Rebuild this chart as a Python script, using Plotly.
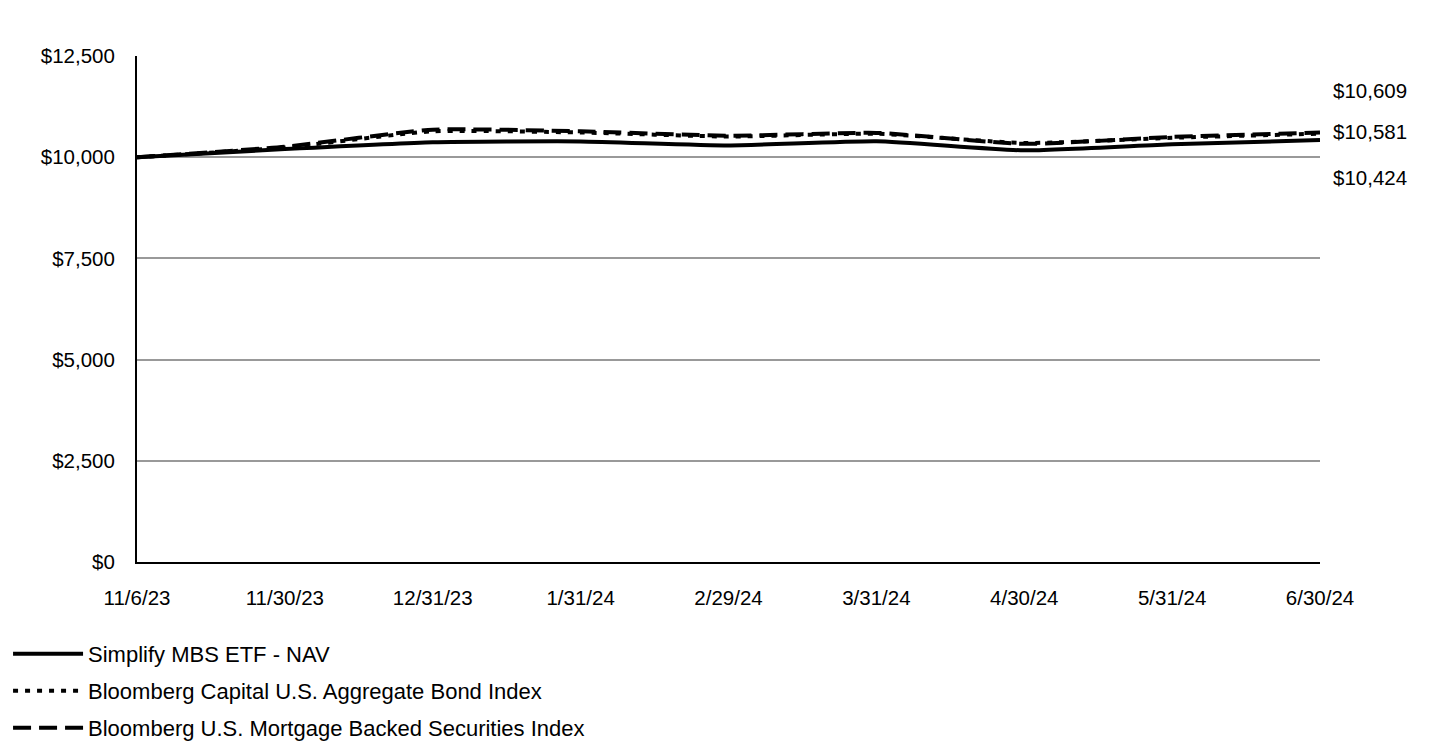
import plotly.graph_objects as go

dates = ["11/6/23", "11/30/23", "12/31/23", "1/31/24", "2/29/24", "3/31/24", "4/30/24", "5/31/24", "6/30/24"]
nav = [10000, 10200, 10370, 10390, 10290, 10395, 10170, 10320, 10424]
agg = [10000, 10240, 10640, 10610, 10510, 10580, 10350, 10480, 10581]
mbs = [10000, 10260, 10680, 10640, 10530, 10600, 10330, 10500, 10609]
end_labels = ["$10,424", "$10,581", "$10,609"]
yticks = [0, 2500, 5000, 7500, 10000, 12500]
ytick_text = ["$0", "$2,500", "$5,000", "$7,500", "$10,000", "$12,500"]

FAM = "Liberation Sans, Arial, sans-serif"
font = dict(family=FAM, size=20.5, color="#000")

fig = go.Figure()
fig.add_trace(go.Scatter(x=dates, y=nav, mode="lines", name="Simplify MBS ETF - NAV", legend="legend",
                         line=dict(color="#000", width=4, shape="spline", smoothing=0.5)))
fig.add_trace(go.Scatter(x=dates, y=agg, mode="lines", name="Bloomberg Capital U.S. Aggregate Bond Index",
                         legend="legend2",
                         line=dict(color="#000", width=4, dash="5px,7px", shape="spline", smoothing=0.5)))
fig.add_trace(go.Scatter(x=dates, y=mbs, mode="lines", name="Bloomberg U.S. Mortgage Backed Securities Index",
                         legend="legend3",
                         line=dict(color="#000", width=4, dash="18px,8px", shape="spline", smoothing=0.5)))

shifts = [-37, 2, 42]
for val, lab, ys in zip([nav[-1], agg[-1], mbs[-1]], end_labels, shifts):
    fig.add_annotation(x=dates[-1], y=val, text=lab, showarrow=False, xanchor="left",
                       yanchor="middle", xshift=11, yshift=ys, font=font)

leg_common = dict(x=-0.109, xanchor="left", yanchor="middle", orientation="v",
                  font=dict(family=FAM, size=22, color="#000"), itemwidth=70,
                  bgcolor="rgba(0,0,0,0)")

fig.update_layout(
    width=1440, height=744,
    margin=dict(l=129, r=128, t=48, b=190, autoexpand=False),
    paper_bgcolor="white", plot_bgcolor="white",
    font=font,
    showlegend=True,
    legend=dict(y=-0.1818, **leg_common),
    legend2=dict(y=-0.2549, **leg_common),
    legend3=dict(y=-0.3281, **leg_common),
    xaxis=dict(type="category", range=[0, 8], showgrid=False, showline=True, linecolor="#000",
               linewidth=2, ticks="outside", ticklen=16, tickcolor="rgba(0,0,0,0)",
               tickfont=font, zeroline=False),
    yaxis=dict(range=[0, 12500], tickmode="array", tickvals=yticks, ticktext=ytick_text,
               showgrid=True, gridcolor="#999", gridwidth=1.5, showline=True, linecolor="#000",
               linewidth=2, ticks="outside", ticklen=16, tickcolor="rgba(0,0,0,0)",
               tickfont=font, zeroline=False),
)
fig.write_html("out.html")
